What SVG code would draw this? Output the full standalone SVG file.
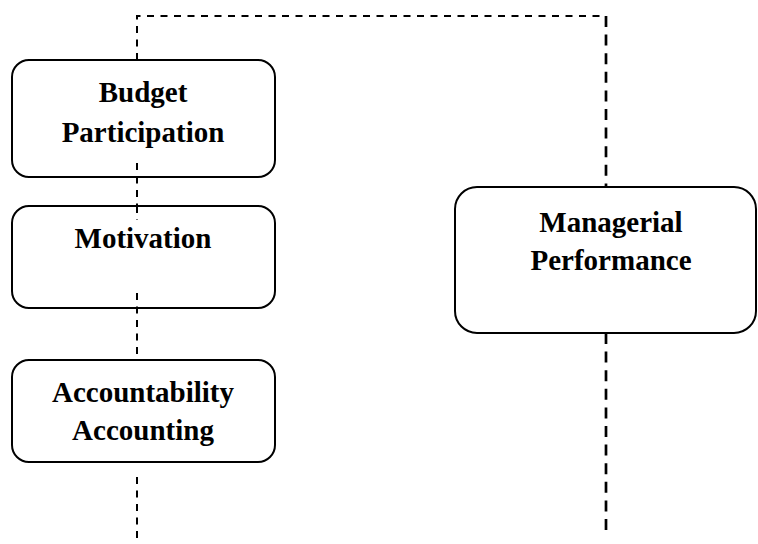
<svg xmlns="http://www.w3.org/2000/svg" width="758" height="544" viewBox="0 0 758 544">
<style>
.box{fill:#fff;stroke:#000;stroke-width:2}
.lbl{font-family:"Liberation Serif","Times New Roman",serif;font-weight:bold;font-size:29px;fill:#000;text-anchor:middle}
.d1{fill:none;stroke:#000;stroke-width:2;stroke-dasharray:7 6.5}
.d2{fill:none;stroke:#000;stroke-width:2.7;stroke-dasharray:11 7.6}
</style>
<rect width="758" height="544" fill="#fff"/>
<g id="connectors">
<path class="d1" d="M137,60 V16 H606"/>
<path class="d2" d="M606,16 V187"/>
<path class="d1" d="M137,163 V220"/>
<path class="d1" d="M137,293 V360"/>
<path class="d1" d="M137,477 V539"/>
<path class="d2" d="M606,333 V531"/>
</g>
<g id="budget">
<rect class="box" x="12" y="60" width="263" height="117" rx="17"/>
<path class="d1" d="M137,163 V177"/>
<text class="lbl" x="143" y="102">Budget</text>
<text class="lbl" x="143" y="142">Participation</text>
</g>
<g id="motivation">
<rect class="box" x="12" y="206" width="263" height="102" rx="17"/>
<path class="d1" d="M137,206 V220"/>
<path class="d1" d="M137,293 V308"/>
<text class="lbl" x="143" y="248">Motivation</text>
</g>
<g id="accountability">
<rect class="box" x="12" y="360" width="263" height="102" rx="17"/>
<text class="lbl" x="143" y="402">Accountability</text>
<text class="lbl" x="143" y="440">Accounting</text>
</g>
<g id="managerial">
<rect class="box" x="455" y="187" width="301" height="146" rx="22"/>
<text class="lbl" x="611" y="232">Managerial</text>
<text class="lbl" x="611" y="270">Performance</text>
</g>
</svg>
